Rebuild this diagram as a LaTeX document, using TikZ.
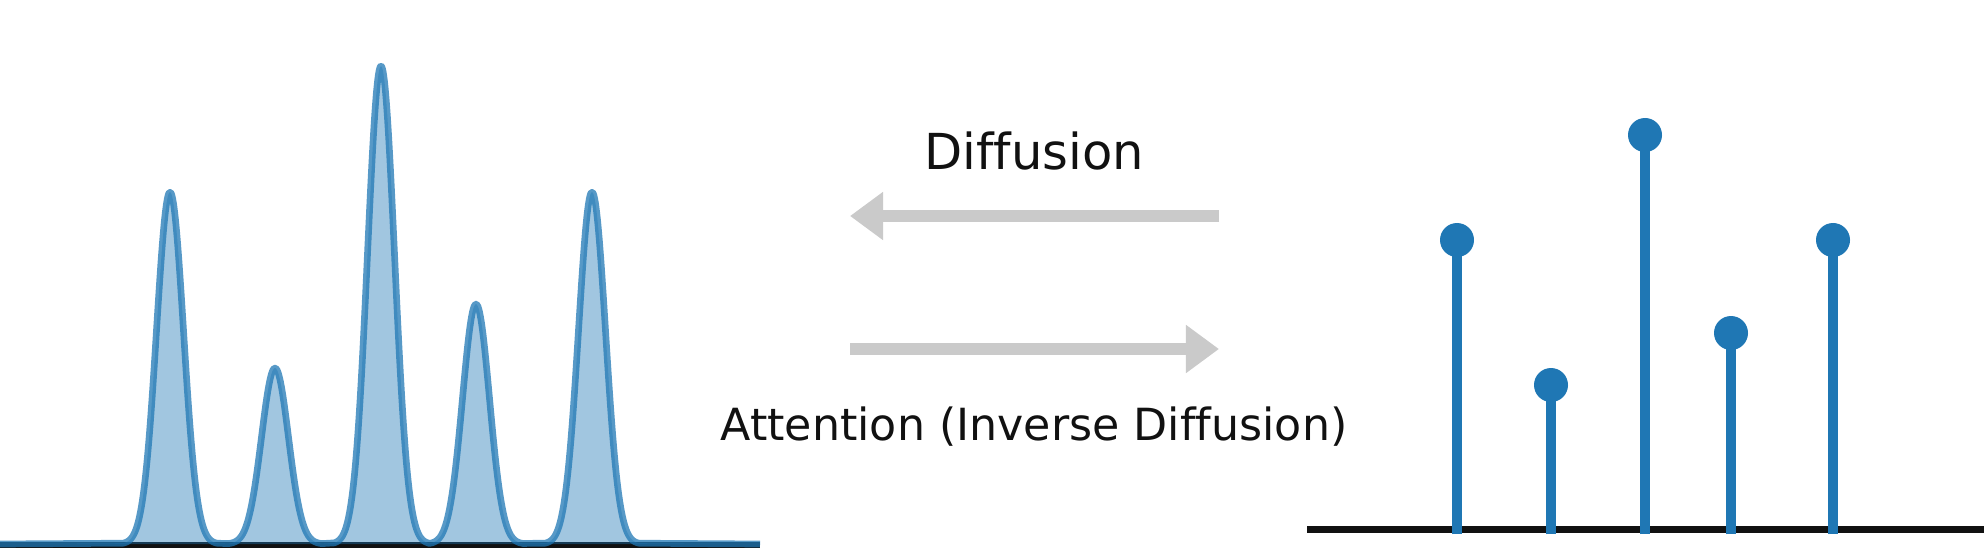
\documentclass[tikz,border=0pt]{standalone}
\usepackage{fontspec}
\setmainfont[Ligatures=NoCommon]{DejaVu Sans}
\usetikzlibrary{arrows.meta}

\definecolor{tabblue}{HTML}{1F77B4}
\definecolor{axisblack}{HTML}{111111}
\definecolor{arrowgray}{HTML}{CACACA}

\begin{document}
\begin{tikzpicture}[x=0.01cm,y=-0.01cm,
    axis/.style={draw=axisblack,line width=1.7pt},
    peakfill/.style={fill=tabblue,fill opacity=0.42},
    peakline/.style={draw=tabblue,draw opacity=0.75,line width=1.9pt,line join=round},
    stem/.style={draw=tabblue,line width=2.85pt},
    marker/.style={circle,fill=tabblue,minimum size=0.34cm,inner sep=0pt},
    flow/.style={draw=arrowgray,line width=3.4pt,-{Triangle[width=13.1pt,length=9.4pt]}},
    caption/.style={text=axisblack,anchor=base,inner sep=0pt}]
    \useasboundingbox (0,0) rectangle (1984,554);

    % left: smooth density
    \draw[axis] (0,545) -- (760,545);
    \newcommand\peakpath{(0,544) \foreach \c/\h/\a/\b in {170/352/123/217,275/176/228/322,381/478/334/428,476/240/429/523,592/352/545/639}{
        -- plot[domain=\a:\b,samples=70,smooth] (\x,{544-\h*exp(-((\x-\c)/13.5)^2/2)})} -- (760,544)}
    \fill[peakfill] \peakpath -- cycle;
    \draw[peakline] \peakpath;

    % middle: arrows and labels
    \coordinate (diffR) at (1219,216);
    \coordinate (diffL) at (850,216);
    \coordinate (attL) at (850,349);
    \coordinate (attR) at (1219,349);
    \draw[flow] (diffR) -- (diffL);
    \draw[flow] (attL) -- (attR);
    \node[caption,font=\fontsize{14.1}{17}\selectfont] (difflabel) at (1034,169) {Diffusion};
    \node[caption,font=\fontsize{12.6}{15}\selectfont] (attlabel) at (1034,440) {Attention (Inverse Diffusion)};

    % right: discrete stems
    \draw[axis,line width=2pt] (1307,529.5) -- (1984,529.5);
    \foreach \i/\x/\y in {1/1457/240,2/1551/385,3/1645/135,4/1731/333,5/1833/240}{
        \node[marker] (top\i) at (\x,\y) {};
        \coordinate (foot\i) at (\x,534);
        \draw[stem] (foot\i) -- (top\i.center);
    }
\end{tikzpicture}
\end{document}
